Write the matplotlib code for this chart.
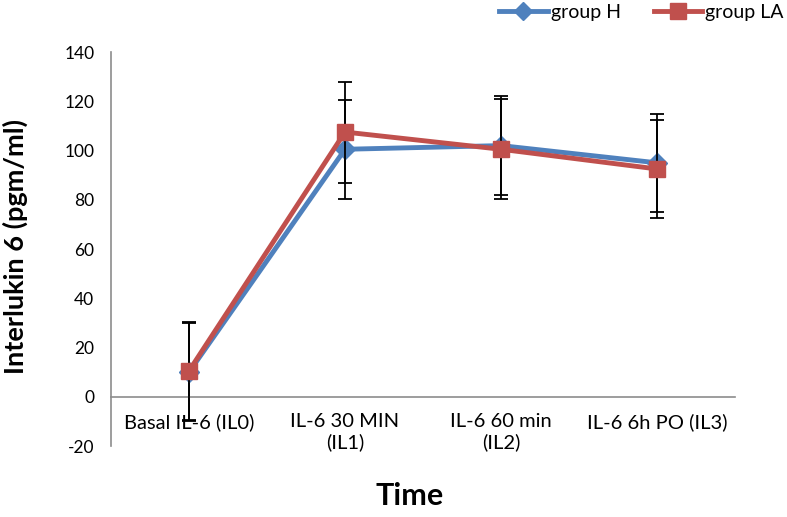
import numpy as np
import matplotlib
matplotlib.use("Agg")
import matplotlib.pyplot as plt
from matplotlib.lines import Line2D

plt.rcParams['font.family'] = ['Lato', 'DejaVu Sans']
plt.rcParams['axes.unicode_minus'] = False

categories = ['Basal IL-6 (IL0)', 'IL-6 30 MIN\n(IL1)', 'IL-6 60 min\n(IL2)', 'IL-6 6h PO (IL3)']
group_h = [10, 100.5, 102, 95]
group_h_err = [20, 20, 20, 20]
group_la = [10.5, 107.5, 100.5, 92.5]
group_la_err = [20, 20.5, 20.3, 20]

blue = '#4F81BD'
red = '#C0504D'
x = np.arange(len(categories))

fig = plt.figure(figsize=(7.87, 5.17), dpi=100)
ax = fig.add_axes([0.141, 0.1373, 0.793, 0.7621])

ax.errorbar(x, group_h, yerr=group_h_err, color=blue, lw=3.5, marker='D',
            ms=10, ecolor='black', elinewidth=1.3, capsize=5, capthick=1.3,
            zorder=2)
ax.errorbar(x, group_la, yerr=group_la_err, color=red, lw=3.5, marker='s',
            ms=12, ecolor='black', elinewidth=1.3, capsize=5, capthick=1.3,
            zorder=3)

ax.set_xlim(-0.5, len(categories) - 0.5)
ax.set_ylim(-20, 140)
ax.set_yticks(np.arange(-20, 141, 20))
ax.set_xticks(x)
ax.set_xticklabels(categories, linespacing=1.6)
ax.tick_params(axis='y', labelsize=12.5, length=0, pad=12)
ax.tick_params(axis='x', labelsize=14.5, length=0, pad=12)

ax.spines['top'].set_visible(False)
ax.spines['right'].set_visible(False)
ax.spines['bottom'].set_position(('data', 0))
ax.spines['bottom'].set_color('#8c8c8c')
ax.spines['left'].set_color('#8c8c8c')
ax.spines['bottom'].set_linewidth(1.2)
ax.spines['left'].set_linewidth(1.2)

fig.text(0.019, 0.524, 'Interlukin 6 (pgm/ml)', fontsize=19.5, fontweight='bold',
         rotation=90, ha='center', va='center')
fig.text(0.52, 0.04, 'Time', fontsize=22, fontweight='bold', ha='center', va='center')

handles = [Line2D([], [], color=blue, lw=3.5, marker='D', ms=9),
           Line2D([], [], color=red, lw=3.5, marker='s', ms=11)]
ax.legend(handles, ['group H', 'group LA'], loc='center left',
          bbox_to_anchor=(0.6, 1.1), ncol=2, frameon=False,
          fontsize=14, handlelength=2.5, columnspacing=1.7, handletextpad=0.15,
          borderpad=0.2)

fig.savefig('out.png', dpi=100)
